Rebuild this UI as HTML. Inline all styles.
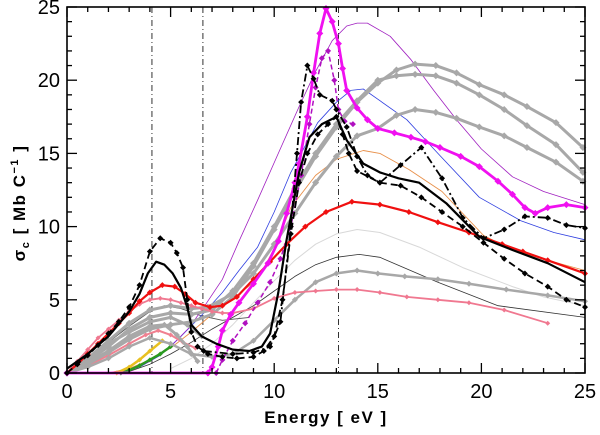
<!DOCTYPE html>
<html><head><meta charset="utf-8"><style>
html,body{margin:0;padding:0;background:#fff;}
svg{display:block;font-family:"Liberation Sans",sans-serif;}
</style></head><body>
<svg id="chart" width="600" height="435" viewBox="0 0 600 435">
<g id="marks"></g>
<g id="axes"></g>
</svg>
<script>
const xTicks=[0,5,10,15,20,25];
const yTicks=[0,5,10,15,20,25];
const vLines=[4.1,6.56,13.1];

const greyLowA=[[0,0],[1,0.7],[2,1.5],[3,2.5],[4,3.2],[4.7,3.3],[5.3,2.6],[5.8,1.8],[6.3,0.8]];
const greyLowB=[[0,0],[1,1],[2,2],[3,2.8],[4,3.5],[5,3.8],[5.8,3.3],[6.5,2.5]];
const greyLowC=[[0,0],[1,0.4],[2,1],[3,1.8],[4,2.4],[5,2],[6,1.3],[7,1.1],[8,1.3],[9,2.2],[10,3.6],[11,5],[12,6.2],[13,6.8],[14,7],[15,6.8],[16.3,6.6],[17.9,6.4],[19.4,6.1],[21.2,5.7],[23.2,5.3],[25,4.9]];
const greyMidA=[[0,0],[1,1],[2,2.2],[3,3.4],[4,4.3],[5,4.6],[6,4.4],[6.8,4.5],[8,5.4],[9,6.8],[10,8.8],[11,10.9],[12,13],[13,14.8],[14,16.2],[15,16.7],[15.9,17.6],[16.8,18],[17.8,17.8],[18.8,17.4],[19.9,16.8],[21.1,16.2],[22.2,15.4],[23.6,14.4],[24.9,13.1]];
const greyMidB=[[0,0],[1,0.8],[2,1.8],[3,3],[4,3.8],[5,4.1],[6,4],[7,4.3],[8,5.6],[9,7.5],[10,10],[11,12.6],[12,15],[13,17],[14,18.6],[15,20],[15.9,20.3],[16.8,20.4],[17.8,20.3],[18.8,19.8],[19.9,19],[21.1,18],[22.2,16.9],[23.6,15.6],[24.9,13.7]];
const greyTop=[[0,0],[1,0.6],[2,1.4],[3,2.3],[4,3],[5,3.3],[6,3.5],[7,4],[8,5.2],[9,7.3],[10,9.8],[11,12.4],[12,14.8],[13,16.8],[14,18.5],[15,19.8],[15.9,20.7],[16.8,21.1],[17.8,21],[18.8,20.5],[19.9,19.7],[21.1,19],[22.2,18.2],[23.6,17.1],[24.9,15.4]];
const lightGrey=[[5,0.3],[6,1],[7,2],[8,3.3],[9,4.8],[10,6.3],[11,7.7],[12,8.8],[13,9.5],[14,9.8],[15.1,9.6],[17,8.6],[19.1,7.2],[21.5,5.9],[23,5.2],[25,4.6]];
const thinBlack=[[0,0],[1,1],[2,2.1],[3,3.2],[4,4.2],[4.7,4.6],[5.5,4.4],[6.5,3.9],[7.5,3.6],[8.8,3.8]];
const thinBlack2=[[3,0.1],[4,0.6],[5,1.3],[6,2.1],[7,3],[8,3.8],[9,4.6],[9.9,5.5],[11,6.6],[12,7.4],[13,7.9],[14.1,8.1],[15.1,7.9],[17.9,6.2],[20.8,4.6],[25,3.8]];
const pinkDots=[[0,0],[0.5,0.8],[1,1.6],[1.5,2.4],[2,3],[2.5,3.6],[3,4.2],[3.5,4.7],[4,5],[4.5,5.1],[5,5],[5.5,4.8],[6,4.6],[6.5,4.4],[7,4.2],[7.5,4.1],[8,4.1],[9,4.4],[10,5.1],[11,5.5],[12,5.6],[13,5.7],[14,5.7],[15.1,5.5],[16.4,5.2],[17.9,5],[19.4,4.8],[21.1,4.3],[23.2,3.4]];
const pinkLow=[[0,0],[1,0.5],[2,1.2],[3,2],[3.8,2.6],[4.4,2.9],[5,2.6],[5.6,2.1],[6.2,1.7]];
const green=[[2.6,0],[3,0.2],[3.5,0.5],[4,0.9],[4.5,1.3],[5,1.8]];
const yellow=[[2.4,0],[3,0.4],[3.5,0.9],[4,1.5],[4.6,2.2]];
const orange=[[2,0],[3,0.3],[4,0.9],[5,1.7],[6,2.8],[7,4],[7.5,4.5],[8.3,5.4],[9.2,6.4],[10,8.5],[10.8,11.3],[12,13.5],[13,14.6],[14.3,15.2],[15.1,15],[16.5,13.9],[18.1,12.4],[20.1,9.4],[21.5,8.4],[23.2,7.7],[25,7]];
const blue=[[2.5,0],[3.5,0.4],[4.5,1.2],[5.5,2.5],[6.6,4.1],[7.5,5.5],[8.3,7],[9.2,8.6],[10,11],[10.8,13.7],[12.1,17.1],[13,18.5],[13.7,19.3],[14.3,19.4],[15,18.7],[16.4,17.3],[17.9,15],[19.9,12],[21.9,10.4],[23.5,9.6],[25,9.1]];
const purple=[[2.8,0],[4,0.8],[5,1.8],[5.9,3.1],[6.7,4.7],[7.5,6.4],[8.3,9],[9.2,11.8],[10.2,15],[11.2,18.2],[12,20.6],[12.8,22.7],[13.5,23.7],[14,23.9],[14.5,23.9],[15.6,23],[16.6,21.4],[17.7,19.3],[18.8,17.3],[20,15.3],[21.5,13.4],[23,12.4],[25,11.5]];
const red=[[0,0],[0.5,0.6],[1,1.3],[1.5,2],[2,2.7],[2.5,3.4],[3,4.1],[3.5,4.9],[4,5.5],[4.6,6],[5.2,5.9],[5.7,5.4],[6.2,4.8],[6.9,4.5],[7.5,4.6],[8.2,5.2],[9,6.4],[9.8,7.6],[10.6,8.8],[11.5,10],[12.5,11],[13.75,11.7],[15.1,11.5],[16.5,11],[17.9,10.3],[19.4,9.6],[21,8.8],[22,8.3],[23.2,7.7],[25,6.8]];
const blackSolid=[[0,0.3],[0.5,0.8],[1,1.3],[2,2.5],[3,4.2],[3.5,5.4],[3.9,6.8],[4.3,7.6],[4.7,7.4],[5.1,6.8],[5.5,5.8],[5.8,4.5],[6,3.3],[6.5,2.5],[7.2,2],[8,1.6],[8.8,1.5],[9.4,1.8],[9.8,2.7],[10.2,5.5],[10.6,9.1],[11.2,13.7],[11.7,16.1],[12.3,17],[13,17.5],[13.5,15.9],[14.3,14.3],[15.1,13.7],[16,13.3],[17,13],[18.3,11.6],[19.9,9.3],[21.5,8.4],[23.2,7.5],[25,6.2]];
const blackDashed=[[0,0],[0.5,0.6],[1,1.2],[1.5,1.9],[2,2.7],[2.5,3.5],[3,4.5],[3.5,6],[4,8.3],[4.5,9.2],[5,8.9],[5.3,8.2],[5.6,7.2],[5.8,5],[6,2.8],[6.3,1.8],[6.8,1.3],[7.5,1.1],[8.2,1],[9,1.1],[9.5,1.5],[10,2.5],[10.4,5],[10.8,9.5],[11.2,13],[11.6,15],[12.1,16.3],[12.6,17],[13,17.5],[13.3,16.3],[13.6,15],[14,13.8],[15.1,13],[16.1,12.8],[17.1,12],[18.1,11],[19.1,10],[20.1,8.9],[21.1,7.8],[22.1,6.8],[23.2,5.9],[24.1,5],[25,4.5]];
const blackDashDot=[[6.6,1.5],[8,1.3],[9,1.4],[9.8,1.8],[10.3,3.5],[10.8,10],[11.1,15],[11.3,18.5],[11.6,21],[11.9,20.1],[12.2,19],[12.8,18.6],[13,18],[13.5,16.8],[14,14.8],[14.5,13.5],[15.1,13],[16.1,14.2],[17.1,15.4],[18.1,13.3],[19.1,10.6],[20.1,9.2],[21.1,9.8],[22.1,10.7],[23.2,10.6],[24.1,10.1],[25,9.9]];
const magenta=[[0,0],[6.8,0],[7,0.4],[7.3,1.8],[7.5,2.9],[7.9,4],[8.3,4.8],[9,6.1],[9.7,7.5],[10.2,9],[10.6,10.9],[11,13],[11.2,14.3],[11.6,17.5],[11.9,20.5],[12.2,23.2],[12.5,24.9],[12.8,24],[13.1,22.5],[13.3,20.8],[13.5,19.3],[14,18.1],[14.5,17.3],[15,16.7],[15.8,16.4],[16.6,16.1],[17.3,15.8],[18,15.4],[19,14.8],[19.9,14.1],[20.8,13.1],[21.5,12.2],[22.1,11.3],[22.6,10.9],[23.2,11.3],[24.1,11.5],[25,11.3]];
const magentaDash=[[7.2,0],[7.5,0.9],[8,2.2],[8.6,3.4],[9.2,4.8],[9.8,6.2],[10.3,7.8],[10.8,10],[11.3,13.5],[11.7,17],[12,19.5],[12.3,21.5],[12.6,22],[12.9,20],[13.1,18],[13.4,17.2],[13.8,17]];

const X0=67,X1=585,Y0=373,Y1=7;
const xs=v=>X0+(v/25)*(X1-X0);
const ys=v=>Y0-(v/25)*(Y0-Y1);
const NS='http://www.w3.org/2000/svg';
const marks=document.getElementById('marks');
const axes=document.getElementById('axes');
function mk(tag,attrs,parent){const e=document.createElementNS(NS,tag);for(const k in attrs)e.setAttribute(k,attrs[k]);parent.appendChild(e);return e;}

function series(data,name,color,width,dash,marker,msize){
  const g=mk('g',{},marks);
  
  
  const p=mk('polyline',{points:data.map(d=>xs(d[0]).toFixed(1)+','+ys(d[1]).toFixed(1)).join(' '),fill:'none',stroke:color,'stroke-width':width,'stroke-linejoin':'round','stroke-dasharray':dash||'none'},g);
  
  
  if(marker){
    data.forEach(d=>{
      const cx=xs(d[0]),cy=ys(d[1]),s=msize||3;
      const m=mk('polygon',{points:`${cx},${cy-s} ${cx+s},${cy} ${cx},${cy+s} ${cx-s},${cy}`,fill:color},g);
      
      
    });
  }
}

vLines.forEach(v=>{
  const l=mk('line',{x1:xs(v),x2:xs(v),y1:Y1,y2:Y0,stroke:'#000','stroke-width':0.8,'stroke-dasharray':'6,3,1,3'},marks);
  
  
});

series(lightGrey,'light-grey-curve','#d8d8d8',1);
series(thinBlack2,'thin-black-curve','#333',0.8);
series(thinBlack,'thin-dark-curve','#555',0.9);
series(orange,'orange-curve','#e8904a',0.9);
series(blue,'blue-curve','#2f3fe0',0.8);
series(purple,'purple-curve','#a020c0',0.8);
series(green,'green-curve','#2a9a20',2.5,null,true,2.5);
series(yellow,'yellow-curve','#e8c020',2.5,null,true,2.5);
series(pinkLow,'pink-low-curve','#f08090',2,null,true,2.5);
series(greyLowA,'grey-low-a','#a8a8a8',3,null,true,3);
series(greyLowB,'grey-low-b','#a8a8a8',3,null,true,3);
series(greyLowC,'grey-low-c','#a8a8a8',2.5,null,true,3);
series(greyMidA,'grey-mid-a','#a8a8a8',3,null,true,3.5);
series(greyMidB,'grey-mid-b','#a8a8a8',3,null,true,3.5);
series(greyTop,'grey-top','#a8a8a8',3,null,true,3.5);
series(pinkDots,'pink-curve','#f07890',1.8,null,true,2.5);
series(red,'red-curve','#f01010',2.2,null,true,3);
series(magentaDash,'magenta-dashed-curve','#b010c0',1.5,'5,3',true,3);
series(magenta,'magenta-curve','#f010f0',2.8,null,true,3.5);
series(blackSolid,'black-solid-curve','#000',2.2);
series(blackDashed,'black-dashed-curve','#000',1.8,'7,4',true,3);
series(blackDashDot,'black-dashdot-curve','#000',1.8,'8,3,2,3',true,3);

const box=mk('rect',{x:X0,y:Y1,width:X1-X0,height:Y0-Y1,fill:'none',stroke:'#000','stroke-width':1.6},axes);


for(let v=0;v<=25;v++){
  const major=v%5===0,L=major?10:5;
  mk('line',{x1:xs(v),x2:xs(v),y1:Y0,y2:Y0-L,stroke:'#000','stroke-width':1.3},axes);
  mk('line',{x1:xs(v),x2:xs(v),y1:Y1,y2:Y1+L,stroke:'#000','stroke-width':1.3},axes);
  mk('line',{x1:X0,x2:X0+L,y1:ys(v),y2:ys(v),stroke:'#000','stroke-width':1.3},axes);
  mk('line',{x1:X1,x2:X1-L,y1:ys(v),y2:ys(v),stroke:'#000','stroke-width':1.3},axes);
}
xTicks.forEach(v=>{
  const t=mk('text',{x:xs(v),y:398,'text-anchor':'middle','font-size':20},axes);
  t.textContent=v;
  
  
});
yTicks.forEach(v=>{
  const t=mk('text',{x:60,y:ys(v)+7,'text-anchor':'end','font-size':20},axes);
  t.textContent=v;
  
  
});
const xt=mk('text',{x:326,y:423,'text-anchor':'middle','font-size':17,'font-weight':'bold','letter-spacing':'1.5','xml:space':'preserve'},axes);
xt.textContent='Energy [ eV ]';


const yt=mk('text',{transform:'translate(25,203) rotate(-90)','text-anchor':'middle','font-size':17,'font-weight':'bold','letter-spacing':'1.5','xml:space':'preserve'},axes);
yt.innerHTML='σ<tspan font-size="11" dy="4">c</tspan><tspan dy="-4">  [ Mb C</tspan><tspan font-size="11" dy="-7">−1</tspan><tspan dy="7"> ]</tspan>';


</script>
</body></html>
